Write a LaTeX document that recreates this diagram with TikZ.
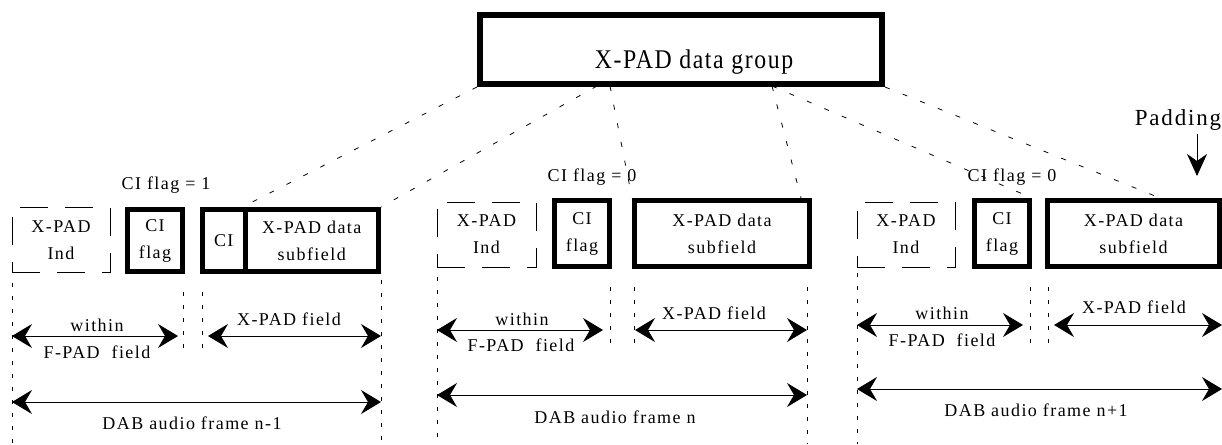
\documentclass[tikz,border=0pt]{standalone}
\usepackage{fontspec}
\setmainfont{Liberation Serif}[LetterSpace=8]
\newfontfamily\grpfont{Liberation Serif}[FakeStretch=0.88,LetterSpace=6]
\usetikzlibrary{arrows.meta}

\tikzset{
  grpbox/.style={draw, line width=6pt, minimum width=402pt, minimum height=69pt},
  indbox/.style={draw, line width=0.9pt, dash pattern=on 28pt off 17pt,
    minimum width=98pt, minimum height=65pt, align=center, inner sep=0pt},
  fieldbox/.style={draw, line width=5pt, minimum height=62pt, align=center, inner sep=0pt},
  link/.style={line width=0.8pt, dash pattern=on 5pt off 14pt},
  guide/.style={line width=0.8pt, dash pattern=on 4pt off 9pt},
  span/.style={line width=1pt,
    {Stealth[length=20pt,width=24pt,inset=7pt]}-{Stealth[length=20pt,width=24pt,inset=7pt]}},
  padarrow/.style={line width=0.8pt, -{Stealth[length=22pt,width=20pt,inset=7pt]}}
}

\begin{document}
\begin{tikzpicture}[x=1pt,y=-1pt,font=\fontsize{18}{27}\selectfont]
\useasboundingbox (0,0) rectangle (1222,444);

% data group on top
\node[grpbox] (grp) at (681,49.5) {};
\node[anchor=base, font=\grpfont\fontsize{27}{32}\selectfont] (grptxt) at (694,68) {X-PAD data group};

% frame n-1
\node[indbox] (ind1) at (61,240) {X-PAD\\Ind};
\node[fieldbox, minimum width=55pt] (flag1) at (155,240.5) {CI\\flag};
\node[fieldbox, minimum width=42.5pt] (ci1) at (223.75,240.5) {CI};
\node[fieldbox, minimum width=133.5pt] (sub1) at (311.75,240.5) {X-PAD data\\subfield};
\node (cif1) at (166,185) {CI flag = 1};

% frame n
\node[indbox, minimum width=99pt] (ind2) at (486.5,234.5) {X-PAD\\Ind};
\node[fieldbox, minimum width=55pt, minimum height=66pt] (flag2) at (582,233.5) {CI\\flag};
\node[fieldbox, minimum width=175pt, minimum height=66pt] (sub2) at (722,233.5) {X-PAD data\\subfield};
\node (cif2) at (592,177) {CI flag = 0};

% frame n+1
\node[indbox] (ind3) at (906,234.5) {X-PAD\\Ind};
\node[fieldbox, minimum width=55pt, minimum height=66pt] (flag3) at (1002,233.5) {CI\\flag};
\node[fieldbox, minimum width=172pt, minimum height=66pt] (sub3) at (1133.5,233.5) {X-PAD data\\subfield};
\node (cif3) at (1012,177) {CI flag = 0};

% where the data group is cut
\coordinate (cut1) at (597,86);
\coordinate (cut2) at (610,86);
\coordinate (cut3) at (772,86);
\coordinate (end2) at (801,198);
\coordinate (pad) at (1160,198);

\draw[link] (grp.south west) -- (sub1.north west);
\draw[link] (cut1) -- (sub1.north east);
\draw[link] (cut2) -- (sub2.north west);
\draw[link] (cut3) -- (end2);
\draw[link] (cut3) -- (flag3.north east);
\draw[link] (grp.south east) -- (pad);

% padding
\node (padtxt) at (1178,120) {\fontsize{23}{27}\selectfont Padding};
\coordinate (padtip) at (1197,176);
\draw[padarrow] (padtxt.south -| padtip) -- (padtip);

% guides
\draw[guide] (12,283) -- (12,444);
\draw[guide] (183,292) -- (183,355);
\draw[guide] (202,292) -- (202,355);
\draw[guide] (381,280) -- (381,444);
\draw[guide] (437,277) -- (437,444);
\draw[guide] (610,287) -- (610,347);
\draw[guide] (634,287) -- (634,347);
\draw[guide] (807,287) -- (807,444);
\draw[guide] (857,273) -- (857,444);
\draw[guide] (1030,287) -- (1030,347);
\draw[guide] (1048,287) -- (1048,347);

% spans, frame n-1
\draw[span] (12,336) -- (178,336);
\draw[span] (208,336) -- (381,336);
\draw[span] (12,402) -- (381,402);
\node (win1) at (97,325) {within};
\node (fpad1) at (97,352) {F-PAD\ \ field};
\node (xpf1) at (289,319) {X-PAD field};
\node (dab1) at (192,423) {DAB audio frame n-1};

% spans, frame n
\draw[span] (437,330) -- (603,330);
\draw[span] (635,330) -- (807,330);
\draw[span] (437,395) -- (807,395);
\node (win2) at (522,319) {within};
\node (fpad2) at (521,345) {F-PAD\ \ field};
\node (xpf2) at (714,313) {X-PAD field};
\node (dab2) at (615,417) {DAB audio frame n};

% spans, frame n+1
\draw[span] (857,325) -- (1023,325);
\draw[span] (1054,325) -- (1222,325);
\draw[span] (857,389) -- (1222,389);
\node (win3) at (942,313) {within};
\node (fpad3) at (942,340) {F-PAD\ \ field};
\node (xpf3) at (1134,307) {X-PAD field};
\node (dab3) at (1036,410) {DAB audio frame n+1};
\end{tikzpicture}
\end{document}
